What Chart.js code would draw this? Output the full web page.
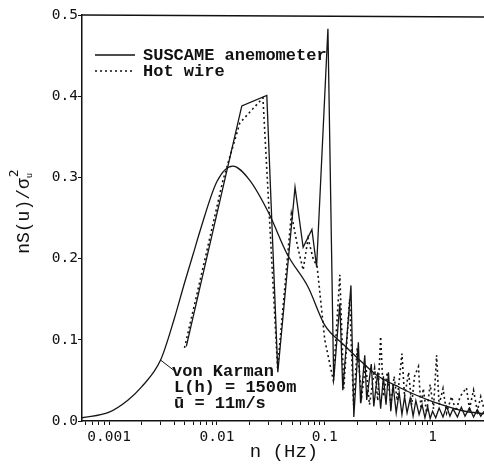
<!DOCTYPE html>
<html>
<head>
<meta charset="utf-8">
<script src="https://cdn.jsdelivr.net/npm/chart.js@4/dist/chart.umd.min.js"></script>
<style>
  html, body { margin: 0; padding: 0; background: #fff; overflow: hidden; }
  #box { width: 484px; height: 466px; }
</style>
</head>
<body>
<div id="box"><canvas id="spectrumChart"></canvas></div>
<script>
// values
var suscameFreq = [0.0052, 0.017, 0.029, 0.0367, 0.053, 0.063, 0.076, 0.084, 0.107, 0.121,
  0.138, 0.147, 0.175, 0.186, 0.205, 0.215, 0.235, 0.245, 0.27, 0.285,
  0.31, 0.33, 0.35, 0.37, 0.39, 0.41, 0.43, 0.46, 0.49, 0.52,
  0.55, 0.58, 0.62, 0.66, 0.7, 0.75, 0.8, 0.85, 0.9, 0.95,
  1.0, 1.07, 1.15, 1.25, 1.35, 1.45, 1.55, 1.7, 1.85, 2.0,
  2.2, 2.4, 2.6, 2.8, 3.0];
var suscameVal = [0.092, 0.388, 0.401, 0.06, 0.288, 0.214, 0.236, 0.19, 0.483, 0.05,
  0.145, 0.038, 0.167, 0.005, 0.097, 0.022, 0.081, 0.026, 0.07, 0.018,
  0.06, 0.015, 0.055, 0.02, 0.06, 0.012, 0.045, 0.01, 0.035, 0.008,
  0.03, 0.01, 0.028, 0.006, 0.025, 0.008, 0.02, 0.004, 0.018, 0.003,
  0.012, 0.004, 0.016, 0.005, 0.018, 0.006, 0.015, 0.005, 0.017, 0.006,
  0.016, 0.005, 0.014, 0.006, 0.012];

var hotwireFreq = [0.005, 0.007, 0.0114, 0.0163, 0.0267, 0.0365, 0.049, 0.056, 0.063, 0.07,
  0.078, 0.085, 0.1, 0.12, 0.138, 0.15, 0.17, 0.185, 0.2, 0.22,
  0.24, 0.26, 0.29, 0.31, 0.33, 0.35, 0.38, 0.41, 0.44, 0.47,
  0.52, 0.55, 0.6, 0.64, 0.68, 0.74, 0.78, 0.82, 0.88, 0.95,
  1.02, 1.09, 1.15, 1.25, 1.35, 1.5, 1.65, 1.8, 2.06, 2.2,
  2.4, 2.6, 2.8, 3.0];
var hotwireVal = [0.09, 0.174, 0.297, 0.367, 0.398, 0.065, 0.255, 0.215, 0.186, 0.225,
  0.2, 0.19, 0.1, 0.05, 0.18, 0.04, 0.15, 0.02, 0.09, 0.03,
  0.07, 0.02, 0.065, 0.025, 0.104, 0.03, 0.06, 0.02, 0.055, 0.025,
  0.083, 0.03, 0.06, 0.02, 0.055, 0.067, 0.015, 0.04, 0.01, 0.045,
  0.015, 0.081, 0.02, 0.04, 0.01, 0.03, 0.012, 0.03, 0.041, 0.015,
  0.038, 0.012, 0.03, 0.015];

var karmanFreq = [0.00056, 0.001, 0.0015, 0.002, 0.003, 0.004, 0.005, 0.006, 0.007, 0.01,
  0.014, 0.02, 0.03, 0.045, 0.07, 0.1, 0.15, 0.2, 0.3, 0.5,
  0.7, 1, 2, 3];
var karmanVal = [0.004, 0.011, 0.026, 0.042, 0.075, 0.125, 0.17, 0.205, 0.235, 0.295,
  0.314, 0.297, 0.257, 0.205, 0.165, 0.118, 0.094, 0.078, 0.057, 0.041,
  0.032, 0.024, 0.012, 0.009];

var decadeTicks = [0.001, 0.01, 0.1, 1];
var yTicks = [0, 0.1, 0.2, 0.3, 0.4, 0.5];

var monoFont = "'DejaVu Sans Mono', monospace";
var typeFont = "'Liberation Mono', 'Courier New', monospace";

function toPoints(freq, val) {
  return freq.map(function (f, i) { return { x: f, y: val[i] }; });
}

// titles, legend and the curve label are drawn straight on the canvas
var labelsPlugin = {
  id: "labels",
  afterDraw: function (chart) {
    var ctx = chart.ctx;
    var area = chart.chartArea;
    var xs = chart.scales.x;
    var ys = chart.scales.y;
    ctx.save();
    ctx.strokeStyle = "#111";
    ctx.fillStyle = "#111";

    // top frame line
    ctx.lineWidth = 1.5;
    ctx.beginPath();
    ctx.moveTo(area.left, area.top);
    ctx.lineTo(chart.width, area.top + 2);
    ctx.stroke();

    // legend
    ctx.lineWidth = 1.3;
    ctx.beginPath();
    ctx.moveTo(95, 55);
    ctx.lineTo(135, 55);
    ctx.stroke();
    ctx.lineWidth = 1.6;
    ctx.setLineDash([2, 3]);
    ctx.beginPath();
    ctx.moveTo(95, 71);
    ctx.lineTo(135, 71);
    ctx.stroke();
    ctx.setLineDash([]);
    ctx.font = "bold 17px " + typeFont;
    ctx.textBaseline = "middle";
    ctx.textAlign = "left";
    ctx.fillText("SUSCAME anemometer", 143, 56);
    ctx.fillText("Hot wire", 143, 72);

    // von Karman label with its pointer
    var px = xs.getPixelForValue(0.003);
    var py = ys.getPixelForValue(0.075);
    ctx.lineWidth = 1;
    ctx.beginPath();
    ctx.moveTo(px, py);
    ctx.lineTo(px + 13, py + 10);
    ctx.stroke();
    ctx.font = "bold 17px " + typeFont;
    ctx.fillText("von Karman", 172, 372);
    ctx.fillText("L(h) = 1500m", 174, 388);
    ctx.fillText("\u016b = 11m/s", 174, 404);

    // x title
    ctx.font = "19px " + typeFont;
    ctx.textAlign = "center";
    ctx.fillText("n (Hz)", 284, 452);

    // y title, rotated
    ctx.translate(24, 212);
    ctx.rotate(-Math.PI / 2);
    ctx.font = "18px " + typeFont;
    ctx.textAlign = "left";
    var main = "nS(u)/\u03c3";
    var w = ctx.measureText(main).width;
    var start = -(w + 8) / 2;
    ctx.fillText(main, start, 0);
    ctx.font = "13px " + monoFont;
    ctx.fillText("2", start + w + 1, -9);
    ctx.font = "9px " + monoFont;
    ctx.fillText("u", start + w, 6);
    ctx.restore();
  }
};

var ctx = document.getElementById("spectrumChart").getContext("2d");

var config = {
  type: "line",
  data: {
    datasets: [
      {
        label: "SUSCAME anemometer",
        data: toPoints(suscameFreq, suscameVal),
        borderColor: "#151515",
        borderWidth: 1.3,
        pointRadius: 0,
        tension: 0,
      },
      {
        label: "Hot wire",
        data: toPoints(hotwireFreq, hotwireVal),
        borderColor: "#151515",
        borderWidth: 1.6,
        borderDash: [2, 3],
        pointRadius: 0,
        tension: 0,
      },
      {
        label: "von Karman",
        data: toPoints(karmanFreq, karmanVal),
        borderColor: "#151515",
        borderWidth: 1.3,
        pointRadius: 0,
        cubicInterpolationMode: "monotone",
      },
    ],
  },
  options: {
    responsive: true,
    maintainAspectRatio: false,
    animation: false,
    layout: {
      padding: { top: 15, right: 0, left: 0, bottom: 0 },
    },
    plugins: {
      legend: { display: false },
      tooltip: { enabled: false },
    },
    scales: {
      x: {
        type: "logarithmic",
        min: 0.00056,
        max: 3,
        afterBuildTicks: function (scale) {
          var ticks = [];
          [0.0001, 0.001, 0.01, 0.1, 1].forEach(function (d) {
            for (var k = 1; k < 10; k++) {
              var v = d * k;
              if (v >= scale.min && v <= scale.max) ticks.push({ value: v });
            }
          });
          scale.ticks = ticks;
        },
        afterFit: function (scale) {
          scale.height = 45;
          scale.paddingRight = 0;
          scale.paddingLeft = 0;
        },
        grid: {
          drawOnChartArea: false,
          color: "#111",
          tickLength: 4,
          tickWidth: 1,
        },
        border: { display: true, color: "#111", width: 1.5 },
        ticks: {
          autoSkip: false,
          maxRotation: 0,
          padding: 4,
          color: "#111",
          font: { family: monoFont, size: 14.5 },
          callback: function (value) {
            var hit = decadeTicks.filter(function (d) { return Math.abs(d - value) / d < 1e-6; });
            return hit.length ? String(hit[0]) : "";
          },
        },
      },
      y: {
        min: 0,
        max: 0.5,
        afterBuildTicks: function (scale) {
          scale.ticks = yTicks.map(function (v) { return { value: v }; });
        },
        afterFit: function (scale) { scale.width = 82; },
        grid: {
          drawOnChartArea: false,
          color: "#111",
          tickLength: 4,
        },
        border: { display: true, color: "#111", width: 1.5 },
        ticks: {
          padding: 0,
          color: "#111",
          font: { family: monoFont, size: 14.5 },
          callback: function (value) { return value.toFixed(1); },
        },
      },
    },
  },
  plugins: [labelsPlugin],
};

var spectrumChart = new Chart(ctx, config);
</script>
</body>
</html>
